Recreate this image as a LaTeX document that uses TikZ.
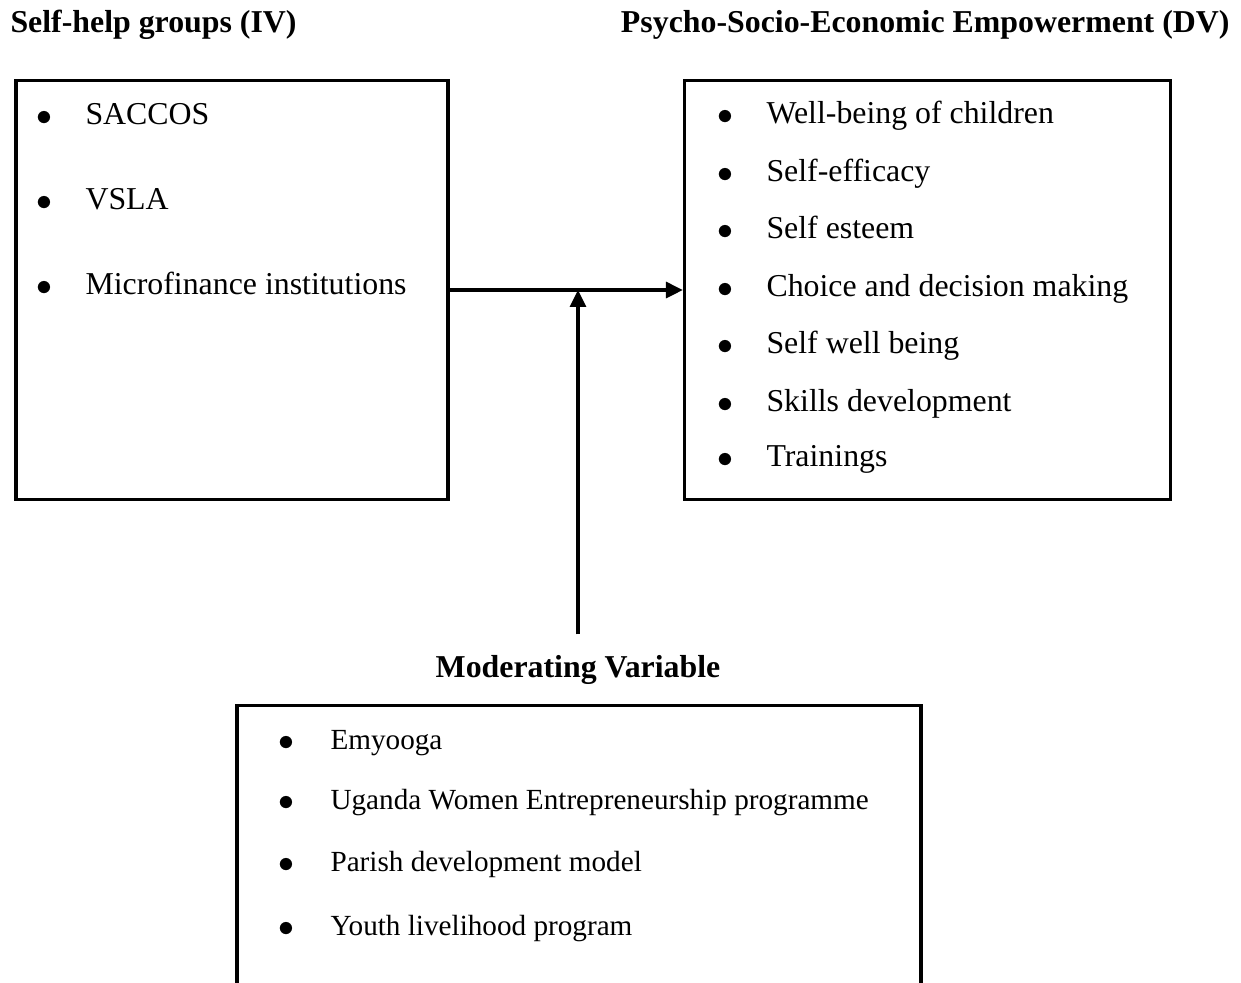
\documentclass[tikz,border=0pt]{standalone}
\usepackage{fontspec}
\setmainfont{Liberation Serif}
\usepackage{tikz}
\usetikzlibrary{arrows.meta}

\newcommand{\blt}[1]{\llap{\raisebox{-0.4pt}{\large$\bullet$}\hspace{#1}}}

\begin{document}
\begin{tikzpicture}[x=0.01325cm, y=-0.01325cm,
    every node/.append style={font=\fontsize{12}{14}\selectfont},
    head/.style={font=\fontsize{12}{14}\selectfont\bfseries, inner sep=0pt},
    item/.style={anchor=base west, inner sep=0pt},
    small/.style={anchor=base west, inner sep=0pt, font=\fontsize{11}{13}\selectfont},
    box/.style={draw, line width=1.35pt, rectangle},
    arr/.style={line width=1.25pt, -{Triangle[length=6.4pt, width=6pt]}}]
        \clip (0,0) rectangle (1241,982);

        % headings
        \node[head, anchor=base west] (ivhead) at (10,32) {Self-help groups (IV)};
        \node[head, anchor=base east] (dvhead) at (1230,32) {Psycho-Socio-Economic Empowerment (DV)};
        \node[head, anchor=base] (modtitle) at (578,677) {Moderating Variable};

        % boxes
        \node[box, minimum width=163pt, minimum height=157.8pt] (ivbox) at (232,290) {};
        \node[box, minimum width=183pt, minimum height=157.8pt] (dvbox) at (927.5,290) {};
        \node[box, minimum width=257.7pt, minimum height=114.6pt] (modbox) at (579,857.5) {};

        % independent variable
        \node[item] (iv1) at (85,124) {\blt{12.5pt}SACCOS};
        \node[item] (iv2) at (85,209) {\blt{12.5pt}VSLA};
        \node[item] (iv3) at (85,294) {\blt{12.5pt}Microfinance institutions};

        % dependent variable
        \node[item] (dv1) at (766,123) {\blt{12.5pt}Well-being of children};
        \node[item] (dv2) at (766,181) {\blt{12.5pt}Self-efficacy};
        \node[item] (dv3) at (766,238) {\blt{12.5pt}Self esteem};
        \node[item] (dv4) at (766,296) {\blt{12.5pt}Choice and decision making};
        \node[item] (dv5) at (766,353) {\blt{12.5pt}Self well being};
        \node[item] (dv6) at (766,411) {\blt{12.5pt}Skills development};
        \node[item] (dv7) at (766,466) {\blt{12.5pt}Trainings};

        % moderating variable
        \node[small] (mv1) at (330,749) {\blt{13.5pt}Emyooga};
        \node[small] (mv2) at (330,809) {\blt{13.5pt}Uganda Women Entrepreneurship programme};
        \node[small] (mv3) at (330,871) {\blt{13.5pt}Parish development model};
        \node[small] (mv4) at (330,935) {\blt{13.5pt}Youth livelihood program};

        \coordinate (mid) at (578,290);
        \draw[arr] (ivbox.east) -- (dvbox.west);
        \draw[arr, shorten <=7.5pt] (modtitle.north) -- (mid);
    \end{tikzpicture}
\end{document}
